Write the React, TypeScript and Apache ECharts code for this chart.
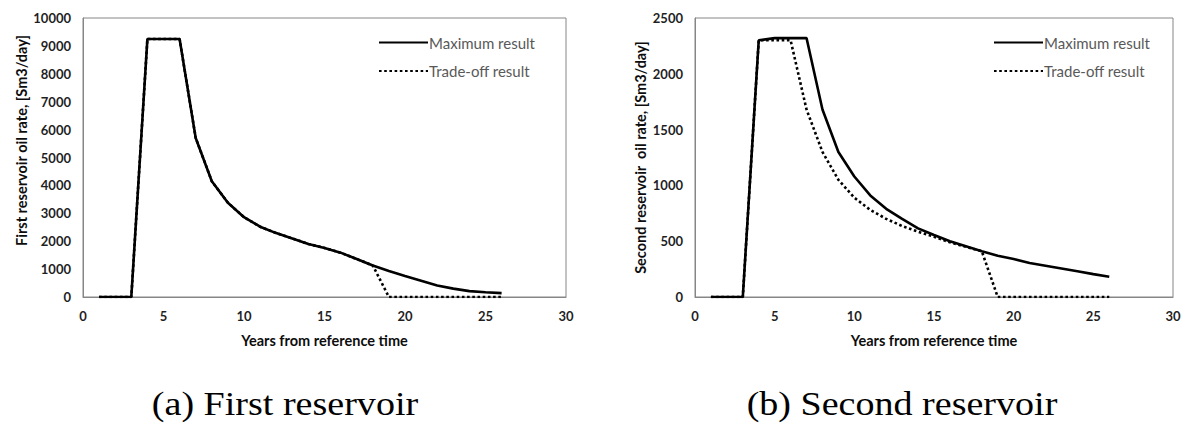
import React, { useEffect, useRef } from "react";
import * as echarts from "echarts";

const years = [1, 2, 3, 4, 5, 6, 7, 8, 9, 10, 11, 12, 13, 14, 15, 16, 17, 18, 19, 20, 21, 22, 23, 24, 25, 26];

const firstMax = [0, 0, 0, 9250, 9250, 9250, 5700, 4150, 3380, 2860, 2520, 2290, 2100, 1900, 1760, 1590, 1360, 1130, 930, 750, 580, 410, 300, 210, 170, 140];
const firstTrade = [0, 0, 0, 9250, 9250, 9250, 5700, 4150, 3380, 2860, 2520, 2290, 2100, 1900, 1760, 1590, 1360, 1130, 0, 0, 0, 0, 0, 0, 0, 0];

const secondMax = [0, 0, 0, 2300, 2320, 2320, 2320, 1680, 1300, 1080, 910, 790, 700, 615, 555, 500, 455, 410, 370, 340, 305, 280, 255, 230, 205, 182];
const secondTrade = [0, 0, 0, 2300, 2300, 2300, 1680, 1300, 1050, 890, 780, 700, 636, 585, 540, 490, 450, 410, 0, 0, 0, 0, 0, 0, 0, 0];

const seriesNames = ["Maximum result", "Trade-off result"];
const xAxisTitle = "Years from reference time";
const yTitles = ["First reservoir oil rate, [Sm3/day]", "Second reservoir  oil rate, [Sm3/day]"];
const captions = ["(a) First reservoir", "(b) Second reservoir"];

const pairs = (ys: number[]) => years.map((x, i) => [x, ys[i]]);

export default function App() {
  const ref = useRef<HTMLDivElement>(null);
  useEffect(() => {
    if (!ref.current) return;
    const chart = echarts.init(ref.current, undefined, { renderer: "svg" });
    const font = "Lato";
    const axisColor = "#868686";
    const labelStyle = { color: "#1f1f1f", fontFamily: font, fontWeight: "bold" as const, fontSize: 13 };
    const titleStyle = { color: "#0d0d0d", fontFamily: font, fontWeight: "bold" as const, fontSize: 14.5 };
    const mkX = (gi: number) => ({
      type: "value" as const,
      gridIndex: gi,
      min: 0,
      max: 30,
      interval: 5,
      axisLine: { show: true, lineStyle: { color: axisColor, width: 1 } },
      axisTick: { show: false },
      splitLine: { show: false },
      axisLabel: { ...labelStyle, margin: 12, formatter: (v: number) => String(v) },
      name: xAxisTitle,
      nameLocation: "middle" as const,
      nameGap: 36,
      nameTextStyle: titleStyle,
    });
    const mkY = (gi: number, max: number, interval: number, gap: number, pad: number[]) => ({
      type: "value" as const,
      gridIndex: gi,
      min: 0,
      max,
      interval,
      axisLine: { show: true, lineStyle: { color: axisColor, width: 1 } },
      axisTick: { show: false },
      splitLine: { show: false },
      axisLabel: { ...labelStyle, margin: 12, formatter: (v: number) => String(v) },
      name: yTitles[gi],
      nameLocation: "middle" as const,
      nameGap: gap,
      nameTextStyle: { ...titleStyle, padding: pad },
    });
    const solid = { color: "#000", width: 2.6, type: "solid" as const };
    const dotted = { color: "#000", width: 2.6, type: [2.6, 2.6] as any, cap: "butt" as const };
    const mkSeries = (name: string, data: number[], gi: number, ls: any, z: number) => ({
      type: "line" as const,
      name,
      xAxisIndex: gi,
      yAxisIndex: gi,
      data: pairs(data),
      symbol: "none",
      lineStyle: ls,
      itemStyle: { color: "#000" },
      z,
    });
    const mkLegend = (left: number) => ({
      show: true,
      orient: "vertical" as const,
      left,
      top: 35,
      padding: 0,
      itemWidth: 49,
      itemHeight: 16,
      itemGap: 13.5,
      data: seriesNames,
      itemStyle: { opacity: 0 },
      textStyle: { color: "#595959", fontFamily: font, fontSize: 15, padding: [0, 0, 0, -4] },
      selectedMode: false,
    });
    chart.setOption({
      animation: false,
      backgroundColor: "#ffffff",
      grid: [
        { left: 83, top: 18, width: 483, height: 279, show: true, borderColor: axisColor, borderWidth: 1, containLabel: false },
        { left: 695, top: 18, width: 478, height: 279, show: true, borderColor: axisColor, borderWidth: 1, containLabel: false },
      ],
      legend: [mkLegend(378), mkLegend(993)],
      xAxis: [mkX(0), mkX(1)],
      yAxis: [mkY(0, 10000, 1000, 52, [0, 0, 0, 34]), mkY(1, 2500, 500, 47, [0, 0, 0, 0])],
      series: [
        mkSeries(seriesNames[0], firstMax, 0, solid, 3),
        mkSeries(seriesNames[1], firstTrade, 0, dotted, 2),
        mkSeries(seriesNames[0], secondMax, 1, solid, 3),
        mkSeries(seriesNames[1], secondTrade, 1, dotted, 2),
      ],
      graphic: [
        {
          type: "text",
          x: 285,
          y: 404,
          scaleX: 1.12,
          style: { text: captions[0], fill: "#000", font: "34px 'Liberation Serif'", align: "center", verticalAlign: "middle" },
        },
        {
          type: "text",
          x: 902,
          y: 404,
          scaleX: 1.12,
          style: { text: captions[1], fill: "#000", font: "34px 'Liberation Serif'", align: "center", verticalAlign: "middle" },
        },
      ],
    });
    return () => chart.dispose();
  }, []);
  return (
    <div
      ref={ref}
      style={{ position: "fixed", left: 0, top: 0, width: 1192, height: 424, background: "#fff" }}
    />
  );
}
